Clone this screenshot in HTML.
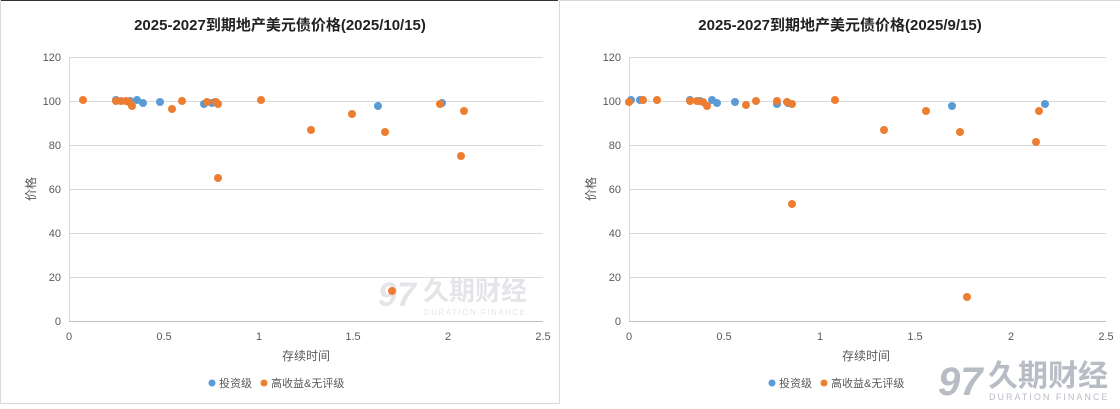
<!DOCTYPE html>
<html><head><meta charset="utf-8"><style>
body{margin:0;background:#fff;width:1120px;height:404px;overflow:hidden}
svg text{font-family:"Liberation Sans","Noto Sans CJK SC",sans-serif}
</style></head><body>
<svg width="1120" height="404" xmlns="http://www.w3.org/2000/svg">
<rect x="0" y="0" width="1120" height="404" fill="#fff"/>
<line x1="0" y1="0.5" x2="558" y2="0.5" stroke="#333" stroke-width="1"/>
<line x1="0.5" y1="0" x2="0.5" y2="404" stroke="#d9d9d9"/>
<line x1="559.5" y1="0" x2="559.5" y2="404" stroke="#d9d9d9"/>
<line x1="560" y1="0.5" x2="1120" y2="0.5" stroke="#d9d9d9"/>
<line x1="0" y1="403.5" x2="560" y2="403.5" stroke="#d9d9d9"/>

<g id="L">
<text x="280" y="30" font-size="15" font-weight="bold" text-anchor="middle" fill="#222">2025-2027到期地产美元债价格(2025/10/15)</text>
<g stroke="#d9d9d9" stroke-width="1">
<line x1="69" y1="57.5" x2="543" y2="57.5"/><line x1="69" y1="101.5" x2="543" y2="101.5"/><line x1="69" y1="145.5" x2="543" y2="145.5"/><line x1="69" y1="189.5" x2="543" y2="189.5"/><line x1="69" y1="233.5" x2="543" y2="233.5"/><line x1="69" y1="277.5" x2="543" y2="277.5"/>
<line x1="69.5" y1="57" x2="69.5" y2="321"/>
</g>
<line x1="69" y1="321.5" x2="543" y2="321.5" stroke="#bfbfbf"/>
<g font-size="11" fill="#595959" text-anchor="end">
<text x="61" y="61">120</text><text x="61" y="105">100</text><text x="61" y="149">80</text><text x="61" y="193">60</text><text x="61" y="237">40</text><text x="61" y="281">20</text><text x="61" y="325">0</text></g>
<g font-size="11" fill="#595959" text-anchor="middle">
<text x="69" y="340">0</text><text x="164" y="340">0.5</text><text x="259" y="340">1</text><text x="353" y="340">1.5</text><text x="448" y="340">2</text><text x="543" y="340">2.5</text></g>
<text x="306" y="360" font-size="12" fill="#595959" text-anchor="middle">存续时间</text>
<text transform="translate(35,189) rotate(-90)" font-size="12" fill="#595959" text-anchor="middle">价格</text>
<g opacity="0.5" fill="#c8ccd2"><text x="378" y="306" font-size="34" font-weight="bold" font-style="italic">97</text><text x="423" y="300" font-size="26" font-weight="bold">久期财经</text><text x="424" y="315" font-size="8" letter-spacing="1.5">DURATION FINANCE</text></g>
<g fill="#5b9bd5">
<circle cx="116" cy="100" r="4"/><circle cx="130" cy="101" r="4"/><circle cx="137" cy="100" r="4"/><circle cx="143" cy="103" r="4"/><circle cx="160" cy="102" r="4"/><circle cx="204" cy="104" r="4"/><circle cx="212" cy="103" r="4"/><circle cx="215" cy="102" r="4"/><circle cx="378" cy="106" r="4"/><circle cx="442" cy="103" r="4"/></g>
<g fill="#ed7d31">
<circle cx="83" cy="100" r="4"/><circle cx="116" cy="101" r="4"/><circle cx="121" cy="101" r="4"/><circle cx="126" cy="101" r="4"/><circle cx="129" cy="102" r="4"/><circle cx="132" cy="106" r="4"/><circle cx="172" cy="109" r="4"/><circle cx="182" cy="101" r="4"/><circle cx="207" cy="102" r="4"/><circle cx="216" cy="102" r="4"/><circle cx="218" cy="104" r="4"/><circle cx="218" cy="178" r="4"/><circle cx="261" cy="100" r="4"/><circle cx="311" cy="130" r="4"/><circle cx="352" cy="114" r="4"/><circle cx="385" cy="132" r="4"/><circle cx="392" cy="291" r="4"/><circle cx="440" cy="104" r="4"/><circle cx="461" cy="156" r="4"/><circle cx="464" cy="111" r="4"/></g>
<g font-size="11" fill="#595959"><circle cx="212" cy="383" r="3.5" fill="#5b9bd5"/><text x="219" y="387">投资级</text><circle cx="264" cy="383" r="3.5" fill="#ed7d31"/><text x="271" y="387">高收益&amp;无评级</text></g>
</g>

<g id="R">
<text x="840" y="30" font-size="15" font-weight="bold" text-anchor="middle" fill="#222">2025-2027到期地产美元债价格(2025/9/15)</text>
<g stroke="#d9d9d9" stroke-width="1">
<line x1="629" y1="57.5" x2="1106" y2="57.5"/><line x1="629" y1="101.5" x2="1106" y2="101.5"/><line x1="629" y1="145.5" x2="1106" y2="145.5"/><line x1="629" y1="189.5" x2="1106" y2="189.5"/><line x1="629" y1="233.5" x2="1106" y2="233.5"/><line x1="629" y1="277.5" x2="1106" y2="277.5"/>
<line x1="629.5" y1="57" x2="629.5" y2="321"/>
</g>
<line x1="629" y1="321.5" x2="1106" y2="321.5" stroke="#bfbfbf"/>
<g font-size="11" fill="#595959" text-anchor="end">
<text x="621" y="61">120</text><text x="621" y="105">100</text><text x="621" y="149">80</text><text x="621" y="193">60</text><text x="621" y="237">40</text><text x="621" y="281">20</text><text x="621" y="325">0</text></g>
<g font-size="11" fill="#595959" text-anchor="middle">
<text x="629" y="340">0</text><text x="724" y="340">0.5</text><text x="820" y="340">1</text><text x="915" y="340">1.5</text><text x="1011" y="340">2</text><text x="1106" y="340">2.5</text></g>
<text x="866" y="360" font-size="12" fill="#595959" text-anchor="middle">存续时间</text>
<text transform="translate(595,189) rotate(-90)" font-size="12" fill="#595959" text-anchor="middle">价格</text>
<g fill="#5b9bd5">
<circle cx="631" cy="100" r="4"/><circle cx="640" cy="100" r="4"/><circle cx="690" cy="100" r="4"/><circle cx="700" cy="101" r="4"/><circle cx="712" cy="100" r="4"/><circle cx="717" cy="103" r="4"/><circle cx="735" cy="102" r="4"/><circle cx="777" cy="104" r="4"/><circle cx="788" cy="103" r="4"/><circle cx="952" cy="106" r="4"/><circle cx="1045" cy="104" r="4"/></g>
<g fill="#ed7d31">
<circle cx="629" cy="102" r="4"/><circle cx="643" cy="100" r="4"/><circle cx="657" cy="100" r="4"/><circle cx="690" cy="101" r="4"/><circle cx="697" cy="101" r="4"/><circle cx="703" cy="102" r="4"/><circle cx="707" cy="106" r="4"/><circle cx="746" cy="105" r="4"/><circle cx="756" cy="101" r="4"/><circle cx="777" cy="101" r="4"/><circle cx="787" cy="102" r="4"/><circle cx="792" cy="104" r="4"/><circle cx="792" cy="204" r="4"/><circle cx="835" cy="100" r="4"/><circle cx="884" cy="130" r="4"/><circle cx="926" cy="111" r="4"/><circle cx="960" cy="132" r="4"/><circle cx="967" cy="297" r="4"/><circle cx="1036" cy="142" r="4"/><circle cx="1039" cy="111" r="4"/></g>
<g font-size="11" fill="#595959"><circle cx="772" cy="383" r="3.5" fill="#5b9bd5"/><text x="779" y="387">投资级</text><circle cx="824" cy="383" r="3.5" fill="#ed7d31"/><text x="831" y="387">高收益&amp;无评级</text></g>
<g fill="#b8bcc4"><text x="938" y="395" font-size="40" font-weight="bold" font-style="italic">97</text><text x="988" y="386" font-size="30" font-weight="bold">久期财经</text><text x="989" y="400" font-size="9" letter-spacing="2">DURATION FINANCE</text></g>
</g>
</svg>
</body></html>
